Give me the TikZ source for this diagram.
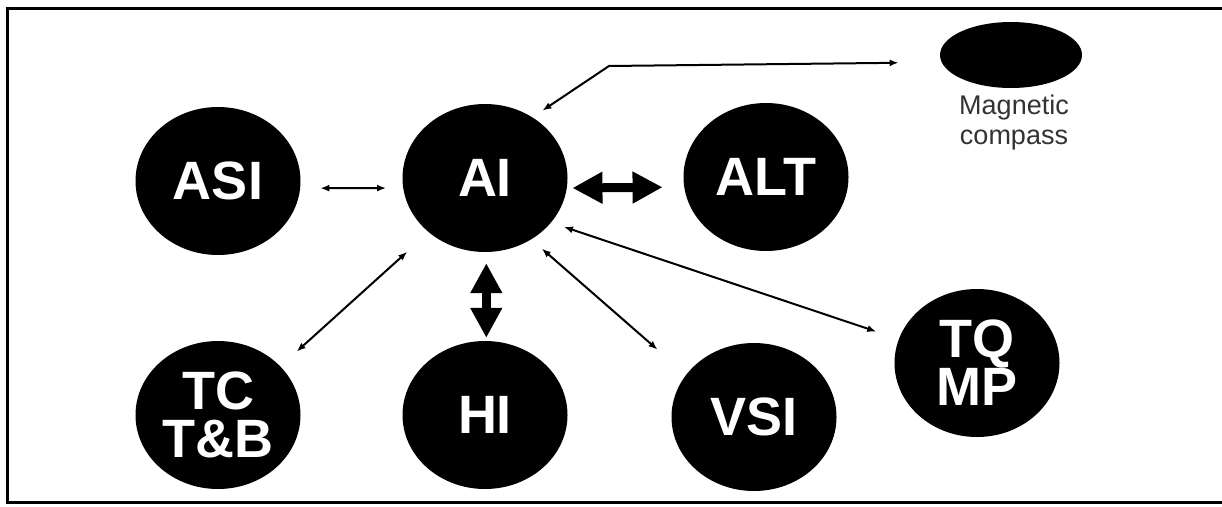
\documentclass[tikz,border=0pt]{standalone}
\usepackage{fontspec}
\setmainfont{Liberation Sans}
\usetikzlibrary{shapes.geometric,arrows.meta}
\begin{document}
\begin{tikzpicture}[x=1pt,y=-1pt,
  bubble/.style={ellipse, fill=black, text=white, minimum width=165pt, minimum height=148pt, inner sep=0pt, align=center, font=\fontsize{54}{48}\selectfont\bfseries},
  thinarrow/.style={line width=2pt, {Latex[length=9pt,width=7pt]}-{Latex[length=9pt,width=7pt]}},
  thickarrow/.style={line width=9pt, {Triangle[length=30pt,width=30pt]}-{Triangle[length=30pt,width=30pt]}},
  frameline/.style={line width=3pt}]
\useasboundingbox (0,0) rectangle (1222,506);
\draw[frameline] (1222,8) -- (7.5,8) -- (7.5,502) -- (1222,502);

\node[bubble] (ASI) at (218,181) {ASI};
\node[bubble] (AI) at (485,178) {AI};
\node[bubble] (ALT) at (766,177) {ALT};
\node[bubble] (TC) at (218,415) {TC\\T\&B};
\node[bubble] (HI) at (485,415) {HI};
\node[bubble] (VSI) at (754,417) {VSI};
\node[bubble] (TQ) at (977,363) {TQ\\MP};
\node[ellipse, fill=black, minimum width=142pt, minimum height=66pt, inner sep=0pt] (MC) at (1011,55) {};
\node[font=\fontsize{27}{30}\selectfont, align=center, text=black!80] (MCL) at (1014,123) {Magnetic\\compass};
\coordinate (bend) at (609,66);

\draw[thinarrow, shorten <=20pt, shorten >=17pt] (ASI.-5) -- (AI.187);
\draw[thickarrow, shorten <=5.5pt, shorten >=21.5pt] (AI.-7) -- (ALT.187);
\draw[thickarrow, shorten <=11pt, shorten >=3pt] (AI.-89) -- (HI.89);
\draw[thinarrow, shorten <=22pt, shorten >=29pt] (TC.38) -- (AI.224);
\draw[thinarrow, shorten <=14pt, shorten >=38pt] (AI.-53) -- (VSI.148);
\draw[thinarrow, shorten <=13.5pt, shorten >=23.7pt] (AI.-34) -- (TQ.163);
\draw[thinarrow, shorten <=12pt, shorten >=43pt] (AI.52) -- (bend) -- (MC.186);
\end{tikzpicture}
\end{document}
